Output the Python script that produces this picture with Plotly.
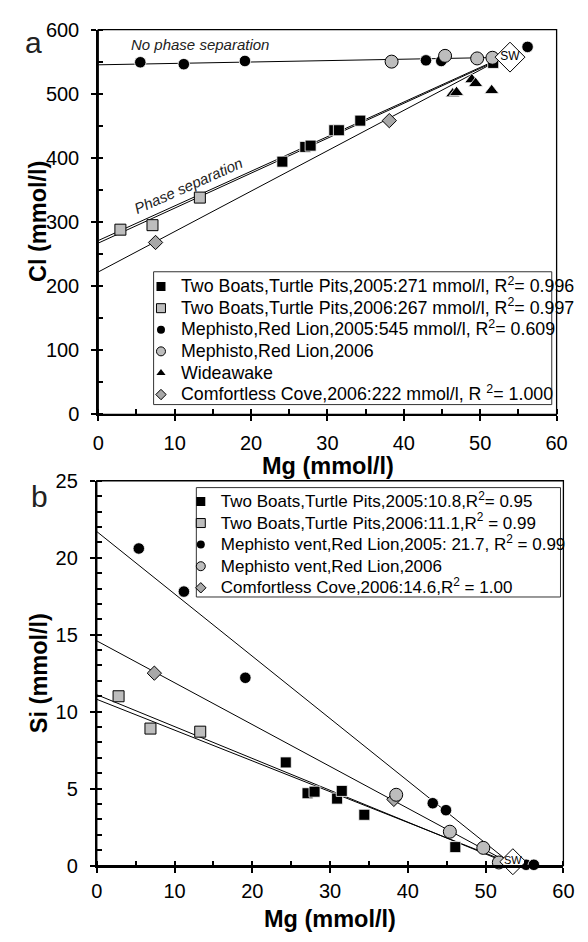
import plotly.graph_objects as go

# ---------------- Panel a : Cl vs Mg ----------------
tb05_mg_a = [24.1, 27.1, 27.8, 30.9, 31.5, 34.3, 51.7]
tb05_cl = [394, 417, 419, 443, 443, 458, 548]
tb06_mg_a = [2.9, 7.1, 13.3]
tb06_cl = [288, 295, 338]
mp05_mg_a = [5.5, 11.2, 19.2, 42.9, 44.9, 56.2]
mp05_cl = [549, 546, 551, 552, 551, 573]
mp06_mg_a = [38.4, 45.4, 49.6, 51.6]
mp06_cl = [550, 559, 555, 556]
wa_mg = [46.4, 46.9, 48.9, 49.4, 51.5]
wa_cl = [500, 502, 522, 516, 505]
cc_mg_a = [7.5, 38.1]
cc_cl = [268, 458]
sw_mg_a = [53.9]
sw_cl = [557]

# regression lines (intercept, slope) for TB2005, TB2006, Mephisto2005, Comfortless Cove
a_intercepts = [271, 267, 545, 222]
a_slopes = [5.40, 5.45, 0.22, 6.30]
a_line_end = 52.5

# ---------------- Panel b : Si vs Mg ----------------
tb05_mg_b = [24.3, 27.1, 28.0, 30.9, 31.5, 34.4, 46.1]
tb05_si = [6.7, 4.7, 4.8, 4.35, 4.85, 3.3, 1.2]
tb06_mg_b = [2.8, 6.9, 13.3]
tb06_si = [11.0, 8.9, 8.7]
mp05_mg_b = [5.4, 11.2, 19.1, 43.2, 44.9, 55.2, 56.2]
mp05_si = [20.6, 17.8, 12.2, 4.05, 3.6, 0.05, 0.05]
mp06_mg_b = [38.5, 45.4, 49.7, 51.7]
mp06_si = [4.6, 2.2, 1.15, 0.2]
cc_mg_b = [7.4, 38.2]
cc_si = [12.5, 4.3]
sw_mg_b = [53.5]
sw_si = [0.25]

b_intercepts = [10.8, 11.1, 21.7, 14.6]
b_slopes = [-0.200, -0.207, -0.405, -0.272]
b_line_end = 53.0

names_a = [
    "Two Boats,Turtle Pits,2005:271 mmol/l, R<sup>2</sup>= 0.996",
    "Two Boats,Turtle Pits,2006:267 mmol/l, R<sup>2</sup>= 0.997",
    "Mephisto,Red Lion,2005:545 mmol/l, R<sup>2</sup>= 0.609",
    "Mephisto,Red Lion,2006",
    "Wideawake",
    "Comfortless Cove,2006:222 mmol/l, R <sup>2</sup>= 1.000",
]
names_b = [
    "Two Boats,Turtle Pits,2005:10.8,R<sup>2</sup>= 0.95",
    "Two Boats,Turtle Pits,2006:11.1,R<sup>2</sup> = 0.99",
    "Mephisto vent,Red Lion,2005: 21.7, R<sup>2</sup> = 0.99",
    "Mephisto vent,Red Lion,2006",
    "Comfortless Cove,2006:14.6,R<sup>2</sup> = 1.00",
]

W, H = 588, 942
FONT = "Liberation Sans, Arial, sans-serif"
GRAY = "#bdbdbd"
DGRAY = "#a8a8a8"


def px(p):
    return p / W


def py(p):
    return 1 - p / H


styles = {
    "tb05": dict(symbol="square", color="black", line=dict(color="white", width=0.8)),
    "tb06": dict(symbol="square", color=GRAY, line=dict(color="black", width=1)),
    "mp05": dict(symbol="circle", color="black", line=dict(color="white", width=0.8)),
    "mp06": dict(symbol="circle", color=GRAY, line=dict(color="black", width=1)),
    "wa": dict(symbol="triangle-up", color="black", line=dict(color="white", width=0.8)),
    "cc": dict(symbol="diamond", color=DGRAY, line=dict(color="black", width=1)),
}
sizes = {"tb05": 11, "tb06": 11, "mp05": 11.5, "mp06": 13, "wa": 12.5, "cc": 11}
leg_sizes = {"tb05": 9, "tb06": 9, "mp05": 8, "mp06": 9, "wa": 8, "cc": 8}

fig = go.Figure()

# regression lines
for b0, m in zip(a_intercepts, a_slopes):
    fig.add_trace(go.Scatter(x=[0, a_line_end], y=[b0, b0 + m * a_line_end], mode="lines",
                             line=dict(color="black", width=1), showlegend=False,
                             hoverinfo="skip", xaxis="x", yaxis="y"))
for b0, m in zip(b_intercepts, b_slopes):
    fig.add_trace(go.Scatter(x=[0, b_line_end], y=[b0, b0 + m * b_line_end], mode="lines",
                             line=dict(color="black", width=1), showlegend=False,
                             hoverinfo="skip", xaxis="x2", yaxis="y2"))


def add_pts(key, xs, ys, xa, ya):
    st = styles[key]
    fig.add_trace(go.Scatter(x=xs, y=ys, mode="markers", cliponaxis=False,
                             marker=dict(symbol=st["symbol"], color=st["color"],
                                         size=sizes[key], line=st["line"]),
                             showlegend=False, xaxis=xa, yaxis=ya))


def add_leg(key, name, legend, fsize):
    st = styles[key]
    fig.add_trace(go.Scatter(x=[None], y=[None], mode="markers",
                             name='<span style="font-size:%spx">%s</span>' % (fsize, name),
                             legend=legend,
                             marker=dict(symbol=st["symbol"], color=st["color"],
                                         size=leg_sizes[key],
                                         line=dict(color="black", width=1) if st["color"] != "black" else dict(width=0)),
                             xaxis="x", yaxis="y"))


# panel a markers
add_pts("tb05", tb05_mg_a, tb05_cl, "x", "y")
add_pts("tb06", tb06_mg_a, tb06_cl, "x", "y")
add_pts("cc", cc_mg_a, cc_cl, "x", "y")
add_pts("wa", wa_mg, wa_cl, "x", "y")
add_pts("mp05", mp05_mg_a, mp05_cl, "x", "y")
add_pts("mp06", mp06_mg_a, mp06_cl, "x", "y")
fig.add_trace(go.Scatter(x=sw_mg_a, y=sw_cl, mode="markers+text", text=["SW"],
                         textposition="middle center", cliponaxis=False,
                         textfont=dict(family=FONT, size=12, color="black"),
                         marker=dict(symbol="diamond", size=23, color="white",
                                     line=dict(color="black", width=1)),
                         showlegend=False, xaxis="x", yaxis="y"))

# panel b markers
add_pts("tb05", tb05_mg_b, tb05_si, "x2", "y2")
add_pts("tb06", tb06_mg_b, tb06_si, "x2", "y2")
add_pts("cc", cc_mg_b, cc_si, "x2", "y2")
add_pts("mp05", mp05_mg_b, mp05_si, "x2", "y2")
add_pts("mp06", mp06_mg_b, mp06_si, "x2", "y2")
fig.add_trace(go.Scatter(x=sw_mg_b, y=sw_si, mode="markers+text", text=["SW"],
                         textposition="middle center", cliponaxis=False,
                         textfont=dict(family=FONT, size=11, color="black"),
                         marker=dict(symbol="diamond", size=20, color="white",
                                     line=dict(color="black", width=1)),
                         showlegend=False, xaxis="x2", yaxis="y2"))

# legend entries
for key, nm in zip(["tb05", "tb06", "mp05", "mp06", "wa", "cc"], names_a):
    add_leg(key, nm, "legend", 17.8)
for key, nm in zip(["tb05", "tb06", "mp05", "mp06", "cc"], names_b):
    add_leg(key, nm, "legend2", 17)

# dummy traces for overlay tick axes
fig.add_trace(go.Scatter(x=[None], y=[None], xaxis="x3", yaxis="y3", showlegend=False))
fig.add_trace(go.Scatter(x=[None], y=[None], xaxis="x4", yaxis="y4", showlegend=False))

tickfont = dict(family=FONT, size=20, color="black")
minor_common = dict(ticks="inside", ticklen=5, tickwidth=1.5, tickcolor="black", showgrid=False)


def main_axis(rng, dtick, mdtick, domain, anchor, standoff):
    return dict(domain=domain, anchor=anchor, range=rng, dtick=dtick, tick0=0,
                ticks="outside", ticklen=5, tickwidth=2, tickcolor="black",
                showline=True, linewidth=2, linecolor="black", showgrid=False,
                zeroline=False, tickfont=tickfont, ticklabelstandoff=standoff,
                minor=dict(dtick=mdtick, tick0=0, **minor_common))


def overlay_axis(rng, dtick, over, anchor, side):
    return dict(overlaying=over, anchor=anchor, side=side, range=rng, dtick=dtick, tick0=0,
                ticks="inside", ticklen=5, tickwidth=2, tickcolor="black",
                showticklabels=False, showline=False, showgrid=False, zeroline=False)


xa_dom = [px(95), px(567)]
ya_dom = [py(413), py(19)]
xb_dom = [px(93.5), px(574)]
yb_dom = [py(875), py(481)]

leg_common = dict(xanchor="left", yanchor="top", bgcolor="rgba(0,0,0,0)", borderwidth=0,
                  font=dict(family=FONT, size=14.3, color="black"))

fig.update_layout(
    width=W, height=H,
    margin=dict(l=0, r=0, t=0, b=0),
    paper_bgcolor="white", plot_bgcolor="white",
    font=dict(family=FONT, color="black"),
    xaxis=main_axis([0, 60], 10, 5, xa_dom, "y", 5),
    yaxis=main_axis([0, 600], 100, 50, ya_dom, "x", 8),
    xaxis2=main_axis([0, 60], 10, 5, xb_dom, "y2", 1),
    yaxis2=main_axis([0, 25], 5, 1, yb_dom, "x2", 8),
    xaxis3=overlay_axis([0, 60], 10, "x", "y", "bottom"),
    yaxis3=overlay_axis([0, 600], 100, "y", "x", "left"),
    xaxis4=overlay_axis([0, 60], 10, "x2", "y2", "bottom"),
    yaxis4=overlay_axis([0, 25], 5, "y2", "x2", "left"),
    legend=dict(x=px(139), y=py(266), **leg_common),
    legend2=dict(x=px(180), y=py(486), **leg_common),
    showlegend=True,
)

# plot frames (thin top/right borders) and legend boxes
for xr, yr in [("x domain", "y domain"), ("x2 domain", "y2 domain")]:
    fig.add_shape(type="rect", xref=xr, yref=yr, x0=0, x1=1, y0=0, y1=1,
                  line=dict(color="black", width=1.3), layer="above")
fig.add_shape(type="rect", xref="paper", yref="paper", x0=px(152), x1=px(562),
              y0=py(403), y1=py(267), line=dict(color="#333", width=1),
              fillcolor="white", layer="below")
fig.add_shape(type="rect", xref="paper", yref="paper", x0=px(196), x1=px(571),
              y0=py(600), y1=py(488), line=dict(color="#333", width=1),
              fillcolor="white", layer="below")

TF = 23.5
ann = []
# axis titles
ann.append(dict(text="<b>Mg (mmol/l)</b>", x=px(332), y=py(466), xref="paper", yref="paper",
                showarrow=False, font=dict(size=TF), xanchor="center", yanchor="middle"))
ann.append(dict(text="<b>Mg (mmol/l)</b>", x=px(334), y=py(930), xref="paper", yref="paper",
                showarrow=False, font=dict(size=TF), xanchor="center", yanchor="middle"))
ann.append(dict(text="<b>Cl (mmol/l)</b>", x=px(33), y=py(216), xref="paper", yref="paper",
                showarrow=False, font=dict(size=TF), textangle=-90, xanchor="center", yanchor="middle"))
ann.append(dict(text="<b>Si (mmol/l)</b>", x=px(34), y=py(678), xref="paper", yref="paper",
                showarrow=False, font=dict(size=TF), textangle=-90, xanchor="center", yanchor="middle"))
# panel letters
ann.append(dict(text="a", x=px(28), y=py(32), xref="paper", yref="paper", showarrow=False,
                font=dict(size=30, color="#222"), xanchor="center", yanchor="middle"))
ann.append(dict(text="b", x=px(35), y=py(497), xref="paper", yref="paper", showarrow=False,
                font=dict(size=30, color="#222"), xanchor="center", yanchor="middle"))
# in-plot notes
ann.append(dict(text="<i>No phase separation</i>", x=13.3, y=577, xref="x", yref="y",
                showarrow=False, font=dict(size=15, color="#222")))
ann.append(dict(text="<i>Phase separation</i>", x=11.8, y=357, xref="x", yref="y",
                showarrow=False, textangle=-24, font=dict(size=15, color="#222")))
fig.update_layout(annotations=ann)

fig.write_html("out.html")
